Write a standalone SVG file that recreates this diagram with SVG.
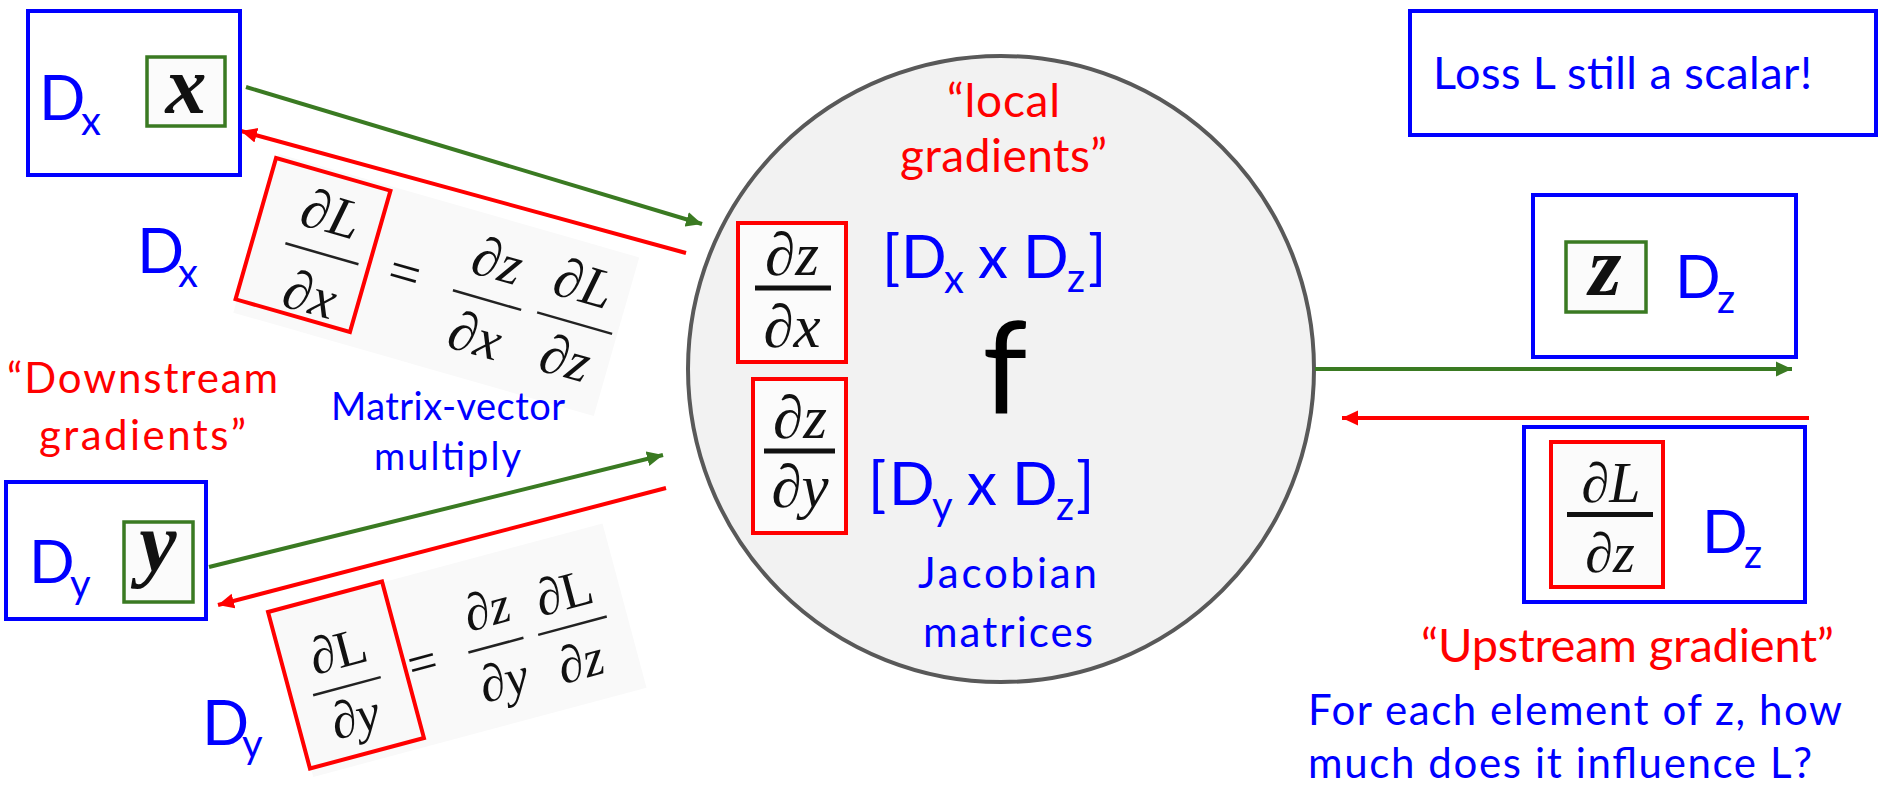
<svg xmlns="http://www.w3.org/2000/svg" width="1878" height="786" viewBox="0 0 1878 786">
<style>
.s{font-family:Lato,'Open Sans',sans-serif}
.blue{fill:#0000ff}
.red{fill:#ff0000}
.blk{fill:#000}
.bbox{fill:none;stroke:#0000ff;stroke-width:4}
.rbox{fill:#fbfbfb;stroke:#ff0000;stroke-width:4}
.rframe{fill:none;stroke:#ff0000;stroke-width:4}
.gbox{fill:#fbfbfb;stroke:#3a7a22;stroke-width:3.5}
.m{font-family:'Liberation Serif','DejaVu Serif',serif;font-style:italic;fill:#111}
.up{font-style:normal}
.bar{stroke:#111;stroke-width:5}
.ebar{stroke:#222;stroke-width:2.5}
.eqbg{fill:#f9f9f9}
.g{stroke:#3a7a22;stroke-width:4;fill:none}
.r{stroke:#ff0000;stroke-width:4;fill:none}
</style>
<defs>
<marker id="ag" markerUnits="userSpaceOnUse" markerWidth="16" markerHeight="16" refX="16" refY="8" orient="auto"><path d="M0,0.5 L16,8 L0,15.5 z" fill="#3a7a22"/></marker>
<marker id="ar" markerUnits="userSpaceOnUse" markerWidth="16" markerHeight="16" refX="16" refY="8" orient="auto"><path d="M0,0.5 L16,8 L0,15.5 z" fill="#ff0000"/></marker>
</defs>
<rect width="1878" height="786" fill="#fff"/>

<!-- equation images (rotated) -->
<g id="eq-x" transform="translate(313,245) rotate(16)">
<rect class="eqbg" x="-58" y="-78" width="375" height="165"/>
<text class="m" font-size="56" text-anchor="middle" x="9" y="-16">∂L</text>
<line class="ebar" x1="-27" y1="6" x2="49" y2="6"/>
<text class="m" font-size="56" text-anchor="middle" x="11" y="67">∂x</text>
<text class="m up" font-size="56" text-anchor="middle" x="96" y="20">=</text>
<text class="m" font-size="56" text-anchor="middle" x="182" y="-17">∂z</text>
<line class="ebar" x1="147" y1="5" x2="218" y2="5"/>
<text class="m" font-size="56" text-anchor="middle" x="181" y="61">∂x</text>
<text class="m" font-size="56" text-anchor="middle" x="271" y="-19">∂L</text>
<line class="ebar" x1="234" y1="3" x2="312" y2="3"/>
<text class="m" font-size="56" text-anchor="middle" x="274" y="58">∂z</text>
<rect class="rframe" x="-59.5" y="-73.5" width="119" height="147"/>
</g>
<g id="eq-y" transform="translate(346,675) rotate(-15)">
<rect class="eqbg" x="-58" y="-80" width="345" height="170"/>
<text class="m" font-size="52" text-anchor="middle" x="-1.5" y="-8">∂<tspan class="up">L</tspan></text>
<line class="ebar" x1="-37" y1="11" x2="33" y2="11"/>
<text class="m" font-size="52" text-anchor="middle" x="-2" y="60">∂y</text>
<text class="m up" font-size="52" text-anchor="middle" x="77" y="25">=</text>
<text class="m" font-size="52" text-anchor="middle" x="153" y="-10">∂z</text>
<line class="ebar" x1="124" y1="10" x2="181" y2="10"/>
<text class="m" font-size="52" text-anchor="middle" x="151" y="63">∂y</text>
<text class="m" font-size="52" text-anchor="middle" x="232" y="-6">∂<tspan class="up">L</tspan></text>
<line class="ebar" x1="196" y1="11" x2="267" y2="11"/>
<text class="m" font-size="52" text-anchor="middle" x="230" y="65">∂z</text>
<rect class="rframe" x="-59" y="-81" width="118" height="162"/>
</g>

<!-- node f -->
<g id="node-f">
<circle cx="1001" cy="369" r="313" fill="#f2f2f2" stroke="#595959" stroke-width="4"/>
<text class="s red" font-size="46" text-anchor="middle" x="1003.5" y="117" textLength="113">“local</text>
<text class="s red" font-size="46" text-anchor="middle" x="1003.5" y="172" textLength="207">gradients”</text>
<rect class="rbox" x="738" y="223" width="108" height="139"/>
<text class="m" font-size="61" text-anchor="middle" x="792" y="275">∂z</text>
<line class="bar" x1="755" y1="288" x2="831" y2="288"/>
<text class="m" font-size="61" text-anchor="middle" x="792" y="347">∂x</text>
<rect class="rbox" x="753" y="379" width="93" height="154"/>
<text class="m" font-size="61" text-anchor="middle" x="800" y="438">∂z</text>
<line class="bar" x1="764" y1="451" x2="835" y2="451"/>
<text class="m" font-size="61" text-anchor="middle" x="800" y="507">∂y</text>
<text class="s blue" font-size="60"><tspan x="882" y="278">[</tspan><tspan x="901" y="278">D</tspan><tspan x="944" y="293" font-size="40">x</tspan><tspan x="978" y="278">x</tspan><tspan x="1023" y="278">D</tspan><tspan x="1067" y="292" font-size="40">z</tspan><tspan x="1088" y="278">]</tspan></text>
<text class="s blk" font-size="128" text-anchor="middle" x="1005" y="413">f</text>
<text class="s blue" font-size="60"><tspan x="868" y="505">[</tspan><tspan x="889" y="505">D</tspan><tspan x="932" y="520" font-size="40">y</tspan><tspan x="967" y="505">x</tspan><tspan x="1012" y="505">D</tspan><tspan x="1056" y="520" font-size="40">z</tspan><tspan x="1076" y="505">]</tspan></text>
<text class="s blue" font-size="42" text-anchor="middle" x="1007.5" y="588" textLength="179">Jacobian</text>
<text class="s blue" font-size="42" text-anchor="middle" x="1008" y="647" textLength="170">matrices</text>
</g>

<!-- connectors -->
<g id="connectors">
<line class="g" x1="246" y1="87" x2="702" y2="224" marker-end="url(#ag)"/>
<line class="r" x1="686" y1="253" x2="241" y2="131" marker-end="url(#ar)"/>
<line class="g" x1="209" y1="567" x2="663" y2="455" marker-end="url(#ag)"/>
<line class="r" x1="666" y1="488" x2="218" y2="605" marker-end="url(#ar)"/>
<line class="g" x1="1315" y1="369" x2="1792" y2="369" marker-end="url(#ag)"/>
<line class="r" x1="1809" y1="418" x2="1342" y2="418" marker-end="url(#ar)"/>
</g>

<!-- node x -->
<g id="node-x">
<rect class="bbox" x="28" y="11" width="212" height="164"/>
<text class="s blue" font-size="61"><tspan x="39" y="120">D</tspan><tspan x="81" y="135" font-size="40">x</tspan></text>
<rect class="gbox" x="147" y="57" width="78" height="69"/>
<text class="m" font-size="82" font-weight="bold" text-anchor="middle" x="186" y="113">x</text>
</g>

<!-- node y -->
<g id="node-y">
<rect class="bbox" x="6" y="482" width="200" height="137"/>
<text class="s blue" font-size="60"><tspan x="29" y="583">D</tspan><tspan x="70" y="598" font-size="40">y</tspan></text>
<rect class="gbox" x="124" y="522" width="69" height="80"/>
<text class="m" font-size="84" font-weight="bold" text-anchor="middle" x="158" y="571">y</text>
</g>

<!-- left labels -->
<g id="labels-left">
<text class="s blue" font-size="62"><tspan x="137" y="273">D</tspan><tspan x="178" y="287" font-size="40">x</tspan></text>
<text class="s blue" font-size="62"><tspan x="202" y="745">D</tspan><tspan x="242" y="758" font-size="40">y</tspan></text>
<text class="s red" font-size="42" text-anchor="middle" x="142.5" y="393" textLength="271">“Downstream</text>
<text class="s red" font-size="42" text-anchor="middle" x="142.5" y="450" textLength="207">gradients”</text>
<text class="s blue" font-size="38" text-anchor="middle" x="448" y="420" textLength="234">Matrix-vector</text>
<text class="s blue" font-size="38" text-anchor="middle" x="447.5" y="470" textLength="147">multiply</text>
</g>

<!-- loss box -->
<g id="node-loss">
<rect class="bbox" x="1410" y="11" width="466" height="124"/>
<text class="s blue" font-size="45" x="1433" y="89" textLength="379">Loss L still a scalar!</text>
</g>

<!-- node z -->
<g id="node-z">
<rect class="bbox" x="1533" y="195" width="263" height="162"/>
<rect class="gbox" x="1566" y="242" width="80" height="70"/>
<text class="m" font-size="84" font-weight="bold" text-anchor="middle" x="1605" y="295">z</text>
<text class="s blue" font-size="60"><tspan x="1675" y="298">D</tspan><tspan x="1717" y="313" font-size="40">z</tspan></text>
</g>

<!-- node dL/dz -->
<g id="node-dLdz">
<rect class="bbox" x="1524" y="427" width="281" height="175"/>
<rect class="rbox" x="1551" y="442" width="112" height="145"/>
<text class="m" font-size="56" text-anchor="middle" x="1611" y="502">∂L</text>
<line class="bar" x1="1567" y1="514.5" x2="1653" y2="514.5"/>
<text class="m" font-size="56" text-anchor="middle" x="1610" y="572">∂z</text>
<text class="s blue" font-size="60"><tspan x="1702" y="553">D</tspan><tspan x="1744" y="568" font-size="40">z</tspan></text>
</g>

<!-- right labels -->
<g id="labels-right">
<text class="s red" font-size="47" x="1421" y="662" textLength="413">“Upstream gradient”</text>
<text class="s blue" font-size="42" x="1308" y="725" textLength="534">For each element of z, how</text>
<text class="s blue" font-size="42" x="1308" y="778" textLength="504">much does it influence L?</text>
</g>
</svg>
